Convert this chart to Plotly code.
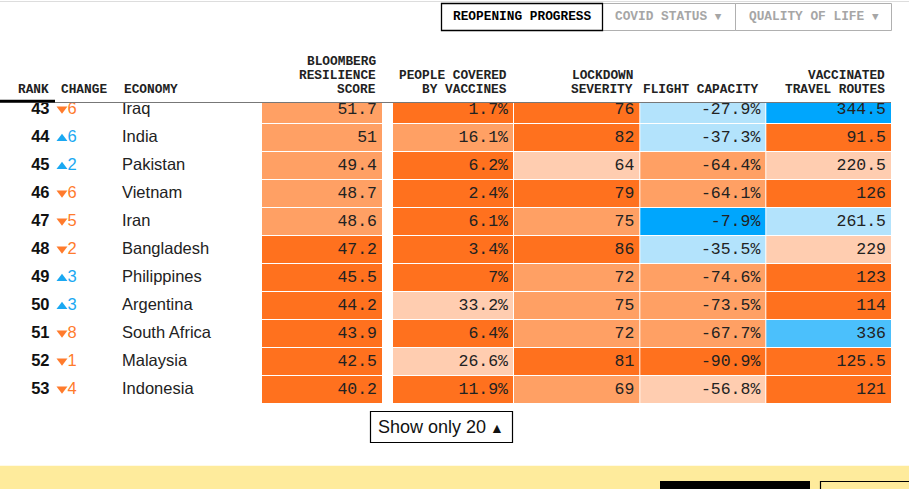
import plotly.graph_objects as go

# ---------------- data ----------------
ranks = [43, 44, 45, 46, 47, 48, 49, 50, 51, 52, 53]
change_dir = ["down", "up", "up", "down", "down", "down", "up", "up", "down", "down", "down"]
change_val = [6, 6, 2, 6, 5, 2, 3, 3, 8, 1, 4]
economies = ["Iraq", "India", "Pakistan", "Vietnam", "Iran", "Bangladesh",
             "Philippines", "Argentina", "South Africa", "Malaysia", "Indonesia"]
resilience_score = [51.7, 51, 49.4, 48.7, 48.6, 47.2, 45.5, 44.2, 43.9, 42.5, 40.2]
vaccine_coverage = [1.7, 16.1, 6.2, 2.4, 6.1, 3.4, 7, 33.2, 6.4, 26.6, 11.9]
lockdown_severity = [76, 82, 64, 79, 75, 86, 72, 75, 72, 81, 69]
flight_capacity = [-27.9, -37.3, -64.4, -64.1, -7.9, -35.5, -74.6, -73.5, -67.7, -90.9, -56.8]
travel_routes = [344.5, 91.5, 220.5, 126, 261.5, 229, 123, 114, 336, 125.5, 121]

# colour tier of each cell as shown (o = orange, b = blue; 1 light .. 3 dark)
score_tier = ["o2", "o2", "o2", "o2", "o2", "o3", "o3", "o3", "o3", "o3", "o3"]
vaccine_tier = ["o3", "o2", "o3", "o3", "o3", "o3", "o3", "o1", "o3", "o1", "o3"]
lockdown_tier = ["o3", "o3", "o1", "o3", "o2", "o3", "o2", "o2", "o2", "o3", "o2"]
flight_tier = ["b1", "b1", "o2", "o2", "b3", "b1", "o2", "o2", "o2", "o3", "o1"]
routes_tier = ["b3", "o3", "o1", "o3", "b1", "o1", "o3", "o3", "b2", "o3", "o3"]

header_lines = {
    "score": ["BLOOMBERG", "RESILIENCE", "SCORE"],
    "vaccine": ["PEOPLE COVERED", "BY VACCINES"],
    "lockdown": ["LOCKDOWN", "SEVERITY"],
    "flight": ["FLIGHT CAPACITY"],
    "routes": ["VACCINATED", "TRAVEL ROUTES"],
}
tabs = ["REOPENING PROGRESS", "COVID STATUS", "QUALITY OF LIFE"]

# ---------------- style ----------------
PALETTE = {
    "o1": "#ffcdb0", "o2": "#ffa064", "o3": "#ff711e",
    "b1": "#b3e3fc", "b2": "#4bc0fc", "b3": "#00a6fd",
}
UP_COLOR = "#1aa8f2"
DOWN_COLOR = "#ff7b2c"
MONO = "Liberation Mono"
SANS = "Liberation Sans"

W, H = 909, 489
TABLE_TOP = 103
ROW0 = 109.5
PITCH = 28


def py(p):
    return 1 - p / H


def fmt(v):
    return f"{v:g}"


n = len(ranks)
rows = list(range(n))
text_y = [r + 0.02 for r in rows]

columns = [
    ("score", [fmt(v) for v in resilience_score], score_tier, 262, 382),
    ("vaccine", [fmt(v) + "%" for v in vaccine_coverage], vaccine_tier, 393, 513),
    ("lockdown", [fmt(v) for v in lockdown_severity], lockdown_tier, 514, 639.3),
    ("flight", [fmt(v) + "%" for v in flight_capacity], flight_tier, 640.3, 765.3),
    ("routes", [fmt(v) for v in travel_routes], routes_tier, 766.3, 891),
]

fig = go.Figure()

for key, labels, tiers, left, right in columns:
    fig.add_trace(go.Bar(
        orientation="h", y=rows, x=[right - left] * n, base=[left] * n,
        width=27 / 28,
        marker=dict(color=[PALETTE[t] for t in tiers], line=dict(width=0)),
        hoverinfo="skip",
    ))
    fig.add_trace(go.Scatter(
        x=[right - 5] * n, y=text_y, text=labels, mode="text",
        textposition="middle left", cliponaxis=True,
        textfont=dict(family=MONO, size=16.5, color="#222222"),
        hoverinfo="skip",
    ))

# rank
fig.add_trace(go.Scatter(
    x=[49.5] * n, y=text_y, text=[str(r) for r in ranks], mode="text",
    textposition="middle left", cliponaxis=True,
    textfont=dict(family=SANS, size=16.5, color="#111111", weight="bold"),
    hoverinfo="skip",
))
# change triangles
chg_colors = [UP_COLOR if d == "up" else DOWN_COLOR for d in change_dir]
fig.add_trace(go.Scatter(
    x=[62] * n, y=[r + (0.04 if d == "up" else -0.02) for r, d in zip(rows, change_dir)],
    mode="markers", cliponaxis=True,
    marker=dict(symbol=["triangle-up" if d == "up" else "triangle-down" for d in change_dir],
                size=9.5, color=chg_colors, line=dict(width=0)),
    hoverinfo="skip",
))
fig.add_trace(go.Scatter(
    x=[67.5] * n, y=text_y, text=[str(v) for v in change_val], mode="text",
    textposition="middle right", cliponaxis=True,
    textfont=dict(family=SANS, size=16.5, color=chg_colors),
    hoverinfo="skip",
))
# economy
fig.add_trace(go.Scatter(
    x=[122] * n, y=text_y, text=economies, mode="text",
    textposition="middle right", cliponaxis=True,
    textfont=dict(family=SANS, size=16.5, color="#222222"),
    hoverinfo="skip",
))

annotations = []
hfont = dict(family=MONO, size=12.8, color="#222222", weight="bold")


def hdr(text, x, y, anchor="right"):
    annotations.append(dict(text=text, x=x, y=py(y), xref="x", yref="paper",
                            xanchor=anchor, yanchor="middle", showarrow=False,
                            font=hfont))


hdr("RANK", 50.5, 89.5)
hdr("CHANGE", 58.5, 89.5, "left")
hdr("ECONOMY", 121.5, 89.5, "left")
for key, labels, tiers, left, right in columns:
    lines = header_lines[key]
    for k, line in enumerate(reversed(lines)):
        hdr(line, right - 4, 89.5 - 14 * k)

# tabs
annotations.append(dict(text=tabs[0], x=522, y=py(17), xref="x", yref="paper",
                        xanchor="center", yanchor="middle", showarrow=False,
                        font=dict(family=MONO, size=12.8, color="#000000", weight="bold")))
for txt, cx in [(tabs[1], 668.5), (tabs[2], 813.5)]:
    annotations.append(dict(text=txt + " <span style='font-size:11px'>▼</span>", x=cx, y=py(17),
                            xref="x", yref="paper", xanchor="center", yanchor="middle",
                            showarrow=False,
                            font=dict(family=MONO, size=12.8, color="#a6a6a6", weight="bold")))

# show only 20 button
annotations.append(dict(text="Show only 20<span style='font-size:14px'> ▲</span>", x=441, y=py(427),
                        xref="x", yref="paper", xanchor="center", yanchor="middle",
                        showarrow=False, font=dict(family=SANS, size=18, color="#111111")))

shapes = [
    # top hairline
    dict(type="line", xref="x", yref="paper", x0=0, x1=W, y0=py(1.5), y1=py(1.5),
         line=dict(color="#dddddd", width=1)),
    # tab boxes
    dict(type="rect", xref="x", yref="paper", x0=602.5, x1=735.5, y0=py(30.5), y1=py(3.5),
         line=dict(color="#b0b0b0", width=1)),
    dict(type="rect", xref="x", yref="paper", x0=735.5, x1=891.5, y0=py(30.5), y1=py(3.5),
         line=dict(color="#b0b0b0", width=1)),
    dict(type="rect", xref="x", yref="paper", x0=441.5, x1=602.5, y0=py(30.5), y1=py(3.5),
         line=dict(color="#000000", width=1.3)),
    # header rule
    dict(type="line", xref="x", yref="paper", x0=0, x1=891, y0=py(102.5), y1=py(102.5),
         line=dict(color="#777777", width=1)),
    dict(type="rect", xref="x", yref="paper", x0=0, x1=55, y0=py(102.5), y1=py(99.8),
         fillcolor="#000000", line=dict(width=0)),
    # show-only button
    dict(type="rect", xref="x", yref="paper", x0=370.5, x1=512.5, y0=py(442.5), y1=py(411.5),
         line=dict(color="#000000", width=1.2)),
    # bottom band
    dict(type="rect", xref="x", yref="paper", x0=0, x1=W, y0=py(H + 2), y1=py(465.7),
         fillcolor="#feeb9c", line=dict(width=0), layer="above"),
    dict(type="rect", xref="x", yref="paper", x0=660, x1=810, y0=py(H + 2), y1=py(481),
         fillcolor="#000000", line=dict(width=0), layer="above"),
    dict(type="rect", xref="x", yref="paper", x0=820.5, x1=W + 5, y0=py(H + 5), y1=py(481.5),
         line=dict(color="#000000", width=1.2), layer="above"),
]

fig.update_layout(
    width=W, height=H, margin=dict(l=0, r=0, t=0, b=0),
    paper_bgcolor="white", plot_bgcolor="white", showlegend=False,
    barmode="overlay",
    xaxis=dict(range=[0, W], visible=False, fixedrange=True),
    yaxis=dict(domain=[0, py(TABLE_TOP)],
               range=[(H - ROW0) / PITCH, (TABLE_TOP - ROW0) / PITCH],
               visible=False, fixedrange=True),
    annotations=annotations, shapes=shapes,
)

fig.write_html(
    "out.html",
    config={"displayModeBar": False},
    post_script="document.body.style.margin='0';document.body.style.overflow='hidden';",
)
